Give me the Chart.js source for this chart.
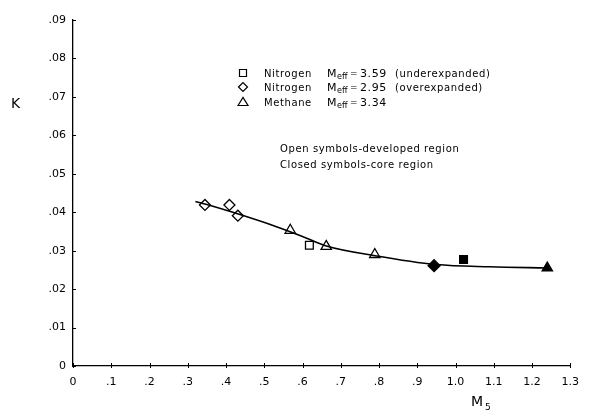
<!DOCTYPE html>
<html>
<head>
<meta charset="utf-8">
<script src="https://cdn.jsdelivr.net/npm/chart.js@4/dist/chart.umd.min.js"></script>
<style>
  html, body { margin: 0; padding: 0; background: #fff; }
  #wrap { width: 589px; height: 415px; }
</style>
</head>
<body>
<div id="wrap"><canvas id="chart" width="589" height="415"></canvas></div>
<script>
// tick labels
const xTickLabels = ['0', '.1', '.2', '.3', '.4', '.5', '.6', '.7', '.8', '.9', '1.0', '1.1', '1.2', '1.3'];
const yTickLabels = ['0', '.01', '.02', '.03', '.04', '.05', '.06', '.07', '.08', '.09'];

// faired curve through the data
const curveM = [0.32, 0.35, 0.42, 0.53, 0.60, 0.66, 0.79, 0.95, 1.09, 1.24];
const curveK = [0.0428, 0.0420, 0.0399, 0.0363, 0.0337, 0.0313, 0.0287, 0.0264, 0.0258, 0.0255];

// nitrogen, Meff = 3.59 (squares)
const n2UnderOpenM = [0.618];
const n2UnderOpenK = [0.0314];
const n2UnderClosedM = [1.021];
const n2UnderClosedK = [0.0277];

// nitrogen, Meff = 2.95 (diamonds)
const n2OverOpenM = [0.345, 0.409, 0.431];
const n2OverOpenK = [0.0419, 0.0419, 0.0391];
const n2OverClosedM = [0.944];
const n2OverClosedK = [0.0261];

// methane, Meff = 3.34 (triangles)
const ch4OpenM = [0.568, 0.662, 0.789];
const ch4OpenK = [0.0353, 0.0311, 0.0290];
const ch4ClosedM = [1.240];
const ch4ClosedK = [0.0255];

const FONT = '"DejaVu Sans", sans-serif';

function pts(xs, ys) {
    return xs.map((x, i) => ({ x: x, y: ys[i] }));
}

function marker(label, xs, ys, style, filled, radius) {
    return {
        type: 'scatter',
        label: label,
        data: pts(xs, ys),
        pointStyle: style,
        pointRadius: radius,
        pointBorderWidth: 1.3,
        pointBorderColor: '#000',
        pointBackgroundColor: filled ? '#000' : '#fff',
        showLine: false
    };
}

// draws crossing tick marks, axis titles and the key
const annotate = {
    id: 'annotate',
    afterDraw(chart) {
        const ctx = chart.ctx;
        const xs = chart.scales.x;
        const ys = chart.scales.y;
        ctx.save();
        ctx.strokeStyle = '#000';
        ctx.lineWidth = 1;
        for (let i = 0; i < xTickLabels.length; i++) {
            const px = Math.round(xs.getPixelForValue(i / 10)) + 0.5;
            ctx.beginPath();
            ctx.moveTo(px, ys.bottom - 3);
            ctx.lineTo(px, ys.bottom + 2);
            ctx.stroke();
        }
        for (let i = 0; i < yTickLabels.length; i++) {
            const py = Math.round(ys.getPixelForValue(i / 100)) + 0.5;
            ctx.beginPath();
            ctx.moveTo(xs.left - 1, py);
            ctx.lineTo(xs.left + 3, py);
            ctx.stroke();
        }

        ctx.fillStyle = '#000';
        ctx.textBaseline = 'alphabetic';
        ctx.textAlign = 'left';

        // axis titles
        ctx.font = '14px ' + FONT;
        ctx.fillText('K', 11, 108);
        ctx.fillText('M', 471, 406);
        ctx.font = '9px ' + FONT;
        ctx.fillText('5', 485, 410);

        // key symbols
        const symX = 243;
        const rows = [73, 87, 102];
        ctx.lineWidth = 1.2;
        ctx.beginPath();
        ctx.rect(symX - 3.5, rows[0] - 3.5, 7, 7);
        ctx.stroke();
        ctx.beginPath();
        ctx.moveTo(symX - 4.5, rows[1]);
        ctx.lineTo(symX, rows[1] - 4.5);
        ctx.lineTo(symX + 4.5, rows[1]);
        ctx.lineTo(symX, rows[1] + 4.5);
        ctx.closePath();
        ctx.stroke();
        ctx.beginPath();
        ctx.moveTo(symX - 5, rows[2] + 3.5);
        ctx.lineTo(symX, rows[2] - 4.5);
        ctx.lineTo(symX + 5, rows[2] + 3.5);
        ctx.closePath();
        ctx.stroke();

        // key text
        const names = ['Nitrogen', 'Nitrogen', 'Methane'];
        const values = ['3.59', '2.95', '3.34'];
        const notes = ['(underexpanded)', '(overexpanded)', ''];
        for (let i = 0; i < 3; i++) {
            const by = rows[i] + 4;
            ctx.letterSpacing = '0.6px';
            ctx.font = '10px ' + FONT;
            ctx.fillText(names[i], 264, by);
            ctx.letterSpacing = '0px';
            ctx.font = '11px ' + FONT;
            ctx.fillText('M', 327, by);
            ctx.font = '8px ' + FONT;
            ctx.fillText('eff', 337, by + 2);
            ctx.font = '9px ' + FONT;
            ctx.fillText('=', 350, by - 1);
            ctx.letterSpacing = '0.6px';
            ctx.font = '11px ' + FONT;
            ctx.fillText(values[i], 360, by);
            ctx.font = '10px ' + FONT;
            if (notes[i]) ctx.fillText(notes[i], 395, by);
        }
        ctx.letterSpacing = '0.6px';
        ctx.font = '10px ' + FONT;
        ctx.fillText('Open symbols-developed region', 280, 152);
        ctx.fillText('Closed symbols-core region', 280, 168);
        ctx.restore();
    }
};

new Chart(document.getElementById('chart'), {
    data: {
        datasets: [
            {
                type: 'line',
                label: 'curve',
                data: pts(curveM, curveK),
                borderColor: '#000',
                borderWidth: 1.6,
                pointRadius: 0,
                fill: false,
                cubicInterpolationMode: 'monotone'
            },
            marker('Nitrogen 3.59 developed', n2UnderOpenM, n2UnderOpenK, 'rect', false, 5.5),
            marker('Nitrogen 3.59 core', n2UnderClosedM, n2UnderClosedK, 'rect', true, 5.5),
            marker('Nitrogen 2.95 developed', n2OverOpenM, n2OverOpenK, 'rectRot', false, 5.5),
            marker('Nitrogen 2.95 core', n2OverClosedM, n2OverClosedK, 'rectRot', true, 6),
            marker('Methane 3.34 developed', ch4OpenM, ch4OpenK, 'triangle', false, 6),
            marker('Methane 3.34 core', ch4ClosedM, ch4ClosedK, 'triangle', true, 6)
        ]
    },
    options: {
        responsive: false,
        animation: false,
        layout: { padding: { left: 0, right: 11, top: 20, bottom: 0 } },
        plugins: {
            legend: { display: false },
            tooltip: { enabled: false }
        },
        scales: {
            x: {
                type: 'linear',
                min: 0,
                max: 1.3,
                afterFit: (scale) => { scale.height = 49; },
                afterBuildTicks: (scale) => {
                    scale.ticks = xTickLabels.map((t, i) => ({ value: i / 10 }));
                },
                ticks: {
                    padding: 10,
                    color: '#000',
                    font: { family: FONT, size: 11 },
                    maxRotation: 0,
                    autoSkip: false,
                    callback: (v, i) => xTickLabels[i]
                },
                grid: { display: false, drawTicks: false },
                border: { display: true, color: '#000', width: 1.3 }
            },
            y: {
                type: 'linear',
                min: 0,
                max: 0.09,
                afterFit: (scale) => { scale.width = 73; },
                afterBuildTicks: (scale) => {
                    scale.ticks = yTickLabels.map((t, i) => ({ value: i / 100 }));
                },
                ticks: {
                    padding: 7,
                    color: '#000',
                    font: { family: FONT, size: 11 },
                    autoSkip: false,
                    callback: (v, i) => yTickLabels[i]
                },
                grid: { display: false, drawTicks: false },
                border: { display: true, color: '#000', width: 1.3 }
            }
        }
    },
    plugins: [annotate]
});
</script>
</body>
</html>
